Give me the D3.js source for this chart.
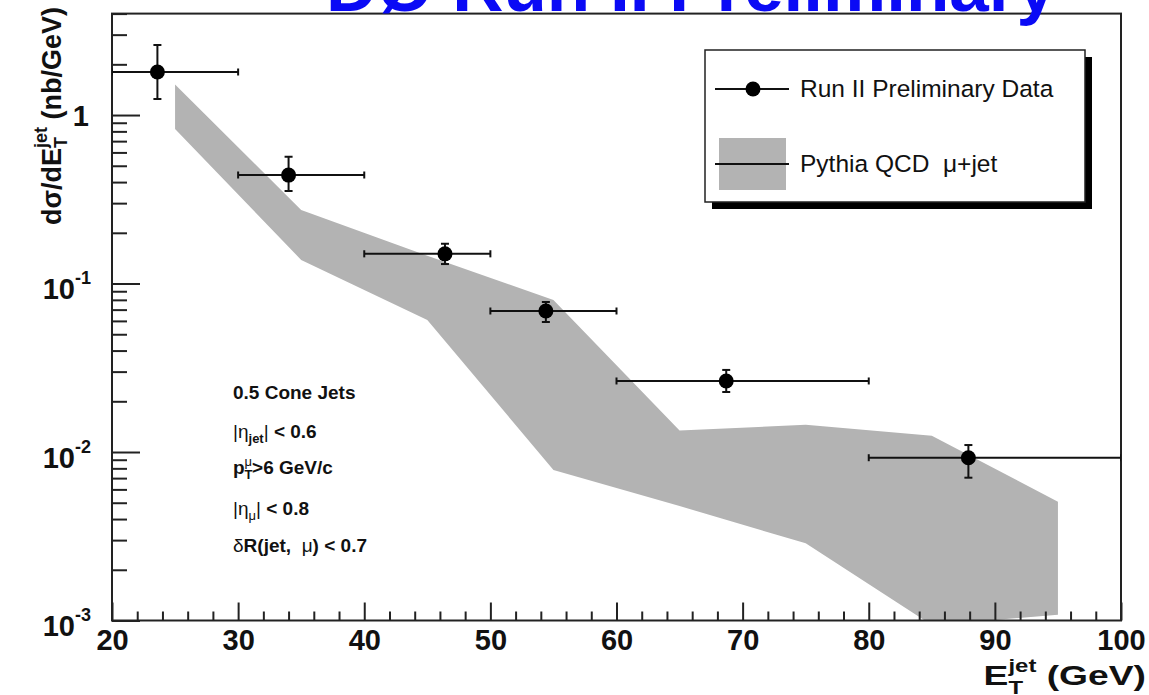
<!DOCTYPE html>
<html>
<head>
<meta charset="utf-8">
<script src="https://cdn.jsdelivr.net/npm/d3@7"></script>
<style>
  html, body { margin: 0; padding: 0; background: #fff; overflow: hidden; }
  svg { display: block; }
  text { font-family: "Liberation Sans", Arial, Helvetica, sans-serif; }
</style>
</head>
<body>
<svg id="chart" width="1149" height="695"></svg>
<script>
// Measured mu+jet cross section per E_T bin
const binLow  = [20, 30, 40, 50, 60, 80];
const binHigh = [30, 40, 50, 60, 80, 100];
const etMean  = [23.6, 34.0, 46.4, 54.4, 68.7, 87.9];
const xsec    = [1.80, 0.44, 0.150, 0.0687, 0.0264, 0.00925];
const xsecHi  = [2.60, 0.566, 0.172, 0.0777, 0.0307, 0.0110];
const xsecLo  = [1.245, 0.354, 0.1305, 0.0591, 0.0227, 0.00704];

// Pythia QCD prediction band (upper / lower edge)
const bandEt   = [25, 35, 45, 55, 65, 75, 85, 95];
const bandHigh = [1.52, 0.273, 0.146, 0.0798, 0.0134, 0.0145, 0.0125, 0.00507];
const bandLow  = [0.826, 0.138, 0.0607, 0.00782, 0.00478, 0.00287, 0.00094, 0.00108];

// Axis ticks
const xTicks = [20, 30, 40, 50, 60, 70, 80, 90, 100];
const yTicks = [1e-3, 1e-2, 1e-1, 1];
const yTickExp = [-3, -2, -1, 0];

const svg = d3.select("#chart");
const FRAME = { left: 112, right: 1121, top: 13.6, bottom: 620.5 };

const x = d3.scaleLinear().domain([20, 100]).range([FRAME.left, FRAME.right]);
const y = d3.scaleLog().domain([1e-3, 4]).range([FRAME.bottom, FRAME.top]);

svg.append("defs").append("clipPath").attr("id", "frameClip")
  .append("rect")
  .attr("x", FRAME.left).attr("y", FRAME.top)
  .attr("width", FRAME.right - FRAME.left).attr("height", FRAME.bottom - FRAME.top);

// Prediction band
const band = d3.area()
  .x((d, i) => x(bandEt[i]))
  .y0((d, i) => y(bandLow[i]))
  .y1((d, i) => y(bandHigh[i]));

svg.append("g").attr("clip-path", "url(#frameClip)")
  .append("path")
  .datum(bandEt)
  .attr("d", band)
  .attr("fill", "#b3b3b3");

// Frame
svg.append("rect")
  .attr("x", FRAME.left).attr("y", FRAME.top)
  .attr("width", FRAME.right - FRAME.left).attr("height", FRAME.bottom - FRAME.top)
  .attr("fill", "none").attr("stroke", "#222").attr("stroke-width", 2);

// Title (runs off the top of the canvas)
svg.append("text")
  .attr("x", 326).attr("y", 11)
  .attr("font-size", 71).attr("font-weight", "bold")
  .attr("fill", "#0a0af5")
  .text("DØ Run II Preliminary");

// X axis: major + minor ticks pointing into the frame
const xAxis = svg.append("g").attr("transform", `translate(0,${FRAME.bottom})`)
  .call(d3.axisBottom(x).tickValues(xTicks).tickSizeInner(-18).tickSizeOuter(0).tickPadding(9)
    .tickFormat(d3.format("d")));
xAxis.select(".domain").remove();
xAxis.selectAll(".tick line").attr("stroke", "#222").attr("stroke-width", 2);
xAxis.selectAll(".tick text")
  .attr("font-size", 29).attr("font-weight", "bold").attr("fill", "#111")
  .style("font-family", "'Liberation Sans', Arial, sans-serif");

const xMinor = d3.range(22, 100, 2).filter(v => v % 10 !== 0);
const xAxisMinor = svg.append("g").attr("transform", `translate(0,${FRAME.bottom})`)
  .call(d3.axisBottom(x).tickValues(xMinor).tickSizeInner(-9).tickSizeOuter(0).tickFormat(""));
xAxisMinor.select(".domain").remove();
xAxisMinor.selectAll(".tick line").attr("stroke", "#222").attr("stroke-width", 2);

// Y axis: log decades with exponent labels
const yAxis = svg.append("g").attr("transform", `translate(${FRAME.left},0)`)
  .call(d3.axisLeft(y).tickValues(yTicks).tickSizeInner(-28).tickSizeOuter(0).tickPadding(20)
    .tickFormat(() => ""));
yAxis.select(".domain").remove();
yAxis.selectAll(".tick line").attr("stroke", "#222").attr("stroke-width", 2);
yAxis.selectAll(".tick text").each(function (d) {
  const t = d3.select(this)
    .attr("font-size", 29).attr("font-weight", "bold").attr("fill", "#111")
    .style("font-family", "'Liberation Sans', Arial, sans-serif");
  const e = yTickExp[yTicks.indexOf(d)];
  if (e === 0) {
    t.attr("dy", "0.36em").attr("x", -23).text("1");
  } else {
    t.attr("dy", "0.52em").attr("x", -21);
    t.append("tspan").text("10");
    t.append("tspan").attr("font-size", 18).attr("dy", -15).text(String(e));
  }
});

const yMinor = [];
yTicks.forEach(d => d3.range(2, 10).forEach(m => { if (m * d <= 4) yMinor.push(m * d); }));
const yAxisMinor = svg.append("g").attr("transform", `translate(${FRAME.left},0)`)
  .call(d3.axisLeft(y).tickValues(yMinor).tickSizeInner(-15).tickSizeOuter(0).tickFormat(""));
yAxisMinor.select(".domain").remove();
yAxisMinor.selectAll(".tick line").attr("stroke", "#222").attr("stroke-width", 2);

// Axis titles
const yTitle = svg.append("text")
  .attr("transform", "translate(61,116) rotate(-90)")
  .attr("text-anchor", "middle")
  .attr("font-size", 27).attr("font-weight", "bold").attr("fill", "#111");
yTitle.append("tspan").text("dσ/dE");
yTitle.append("tspan").attr("font-size", 18).attr("dy", 6).text("T");
yTitle.append("tspan").attr("font-size", 18).attr("dx", -11).attr("dy", -20).text("jet");
yTitle.append("tspan").attr("dy", 14).text(" (nb/GeV)");

// x title, widened glyphs
const xTitle = svg.append("text")
  .attr("transform", "translate(1146,685) scale(1.33,1)")
  .attr("text-anchor", "end")
  .attr("font-size", 28).attr("font-weight", "bold").attr("fill", "#111")
  .attr("xml:space", "preserve");
xTitle.append("tspan").text("E");
xTitle.append("tspan").attr("font-size", 18).attr("dy", 9).text("T");
xTitle.append("tspan").attr("font-size", 18).attr("dx", -11).attr("dy", -22).text("jet");
xTitle.append("tspan").attr("dy", 13).text(" (GeV)");

// Data points with error bars
const pts = svg.append("g").attr("clip-path", "url(#frameClip)")
  .selectAll("g").data(etMean).join("g");
pts.append("line")
  .attr("x1", (d, i) => x(binLow[i])).attr("x2", (d, i) => x(binHigh[i]))
  .attr("y1", (d, i) => y(xsec[i])).attr("y2", (d, i) => y(xsec[i]))
  .attr("stroke", "#111").attr("stroke-width", 2);
pts.append("line")
  .attr("x1", d => x(d)).attr("x2", d => x(d))
  .attr("y1", (d, i) => y(xsecHi[i])).attr("y2", (d, i) => y(xsecLo[i]))
  .attr("stroke", "#111").attr("stroke-width", 2);
// end caps
[binLow, binHigh].forEach(arr => {
  pts.append("line")
    .attr("x1", (d, i) => x(arr[i])).attr("x2", (d, i) => x(arr[i]))
    .attr("y1", (d, i) => y(xsec[i]) - 3.5).attr("y2", (d, i) => y(xsec[i]) + 3.5)
    .attr("stroke", "#111").attr("stroke-width", 2);
});
[xsecHi, xsecLo].forEach(arr => {
  pts.append("line")
    .attr("x1", d => x(d) - 4).attr("x2", d => x(d) + 4)
    .attr("y1", (d, i) => y(arr[i])).attr("y2", (d, i) => y(arr[i]))
    .attr("stroke", "#111").attr("stroke-width", 2);
});
pts.append("circle")
  .attr("cx", d => x(d)).attr("cy", (d, i) => y(xsec[i]))
  .attr("r", 7.5).attr("fill", "#000");

// Legend with drop shadow
const lg = svg.append("g");
lg.append("rect").attr("x", 712).attr("y", 57).attr("width", 380).attr("height", 152).attr("fill", "#000");
lg.append("rect").attr("x", 705).attr("y", 50).attr("width", 380).attr("height", 152)
  .attr("fill", "#fff").attr("stroke", "#222").attr("stroke-width", 1.5);
lg.append("line").attr("x1", 715).attr("x2", 789).attr("y1", 89).attr("y2", 89)
  .attr("stroke", "#111").attr("stroke-width", 2);
lg.append("circle").attr("cx", 753).attr("cy", 89).attr("r", 7.5).attr("fill", "#000");
lg.append("text").attr("x", 800).attr("y", 97).attr("font-size", 24.5).attr("fill", "#111")
  .text("Run II Preliminary Data");
lg.append("rect").attr("x", 719).attr("y", 138).attr("width", 67).attr("height", 52).attr("fill", "#b3b3b3");
lg.append("line").attr("x1", 715).attr("x2", 789).attr("y1", 164).attr("y2", 164)
  .attr("stroke", "#111").attr("stroke-width", 2);
lg.append("text").attr("x", 800).attr("y", 172).attr("font-size", 24.5).attr("fill", "#111")
  .attr("xml:space", "preserve").text("Pythia QCD  μ+jet");

// Selection cuts
const cuts = svg.append("g").attr("font-size", 19).attr("fill", "#111");
function cutLine(yPos, parts) {
  const t = cuts.append("text").attr("x", 233).attr("y", yPos).attr("xml:space", "preserve");
  parts.forEach(p => {
    const s = t.append("tspan").attr("font-weight", p.w || "bold").text(p.s);
    if (p.size) s.attr("font-size", p.size);
    if (p.dy) s.attr("dy", p.dy);
    if (p.dx) s.attr("dx", p.dx);
  });
}
cutLine(399, [{ s: "0.5 Cone Jets" }]);
cutLine(438, [{ s: "|η", w: "normal" }, { s: "jet", size: 13, dy: 5 }, { s: "|", w: "normal", dy: -5 }, { s: " < 0.6" }]);
cutLine(474, [{ s: "p" }, { s: "T", size: 13, dy: 5 }, { s: "μ", w: "normal", size: 13, dx: -8, dy: -13 }, { s: ">6 GeV/c", dy: 8 }]);
cutLine(515, [{ s: "|η", w: "normal" }, { s: "μ", w: "normal", size: 13, dy: 5 }, { s: "|", w: "normal", dy: -5 }, { s: " < 0.8" }]);
cutLine(552, [{ s: "δ", w: "normal" }, { s: "R(jet,  " }, { s: "μ", w: "normal" }, { s: ") < 0.7" }]);
</script>
</body>
</html>
